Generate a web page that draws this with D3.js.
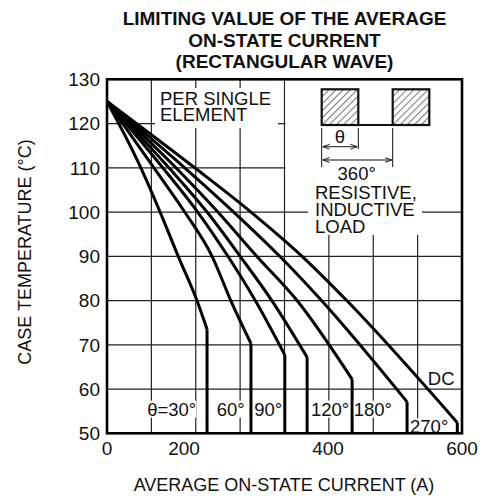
<!DOCTYPE html>
<html>
<head>
<meta charset="utf-8">
<script src="https://cdn.jsdelivr.net/npm/d3@7/dist/d3.min.js"></script>
<style>
	body { margin: 0; background: #fff; }
	text { font-family: "Liberation Sans", Arial, sans-serif; fill: #111; }
</style>
</head>
<body>
<script>
//////////////////////////////////////////////////
// data
//////////////////////////////////////////////////
var tempTicks = [50, 60, 70, 80, 90, 100, 110, 120, 130];
var currentTicks = [0, 200, 400, 600];

// case temperatures where the sloped part of each curve was read
var temps = [125, 110, 100, 90, 80];

// average on-state current (A) at those temperatures, per conduction angle
var i30 = [0, 88, 138, 185, 218];
var i60 = [0, 122, 201, 239, 265];
var i90 = [0, 145, 219, 261, 299];
var i120 = [0, 161, 232, 278, 322];
var i180 = [0, 179, 247, 301, 357];
var i270 = [0, 201, 269, 333, 391];
var iDC = [0, 215, 293, 364, 428];

// knee where each curve turns straight down to 50 degC
var kneeCurrent = [232, 293, 340, 371, 436, 518, 593];
var kneeTemp = [73.5, 70.3, 67.7, 67.2, 62.2, 57.1, 52.4];

var seriesNames = ['30', '60', '90', '120', '180', '270', 'DC'];
var seriesCurrents = [i30, i60, i90, i120, i180, i270, iDC];

// curve labels, anchored in data units
var labelText = ['\u03B8=30\u00B0', '60\u00B0', '90\u00B0', '120\u00B0', '180\u00B0', '270\u00B0', 'DC'];
var labelCurrent = [168, 265, 317, 403, 467, 551, 569];
var labelTemp = [55.5, 55.5, 55.5, 55.5, 55.5, 51.5, 62.5];

var titleLines = ['LIMITING VALUE OF THE AVERAGE', 'ON-STATE CURRENT', '(RECTANGULAR WAVE)'];

//////////////////////////////////////////////////
// canvas
//////////////////////////////////////////////////
var width = 482,
	height = 501,
	plotLeft = 107,
	plotRight = 462,
	plotTop = 79.3,
	plotBottom = 433.3;

var svg = d3.select('body')
	.append('svg')
	.attr('width', width)
	.attr('height', height);

// the printed axis is not evenly spaced, so use a piecewise scale
var x = d3.scaleLinear()
	.domain(currentTicks)
	.range([plotLeft, 184, 328, plotRight]);

var y = d3.scaleLinear()
	.domain([50, 130])
	.range([plotBottom, plotTop]);

// grid has 8 equal divisions across the width
var gridX = d3.scaleLinear().domain([0, 8]).range([plotLeft, plotRight]);

//////////////////////////////////////////////////
// grid
//////////////////////////////////////////////////
svg.append('g')
	.selectAll('line')
	.data(tempTicks.slice(1, -1))
	.enter().append('line')
	.attr('x1', plotLeft).attr('x2', plotRight)
	.attr('y1', function(d) { return y(d); })
	.attr('y2', function(d) { return y(d); })
	.style('stroke', '#222')
	.style('stroke-width', 1.2);

svg.append('g')
	.selectAll('line')
	.data(d3.range(1, 8))
	.enter().append('line')
	.attr('x1', function(d) { return gridX(d); })
	.attr('x2', function(d) { return gridX(d); })
	.attr('y1', plotTop).attr('y2', plotBottom)
	.style('stroke', '#222')
	.style('stroke-width', 1.2);

// white boxes behind the notes (they cut the grid in the original)
svg.append('rect').attr('x', 155).attr('y', 88).attr('width', 123).attr('height', 40).style('fill', '#fff');
svg.append('rect').attr('x', 285.5).attr('y', plotTop).attr('width', plotRight - 285.5).attr('height', 95).style('fill', '#fff');
svg.append('rect').attr('x', 308).attr('y', 172).attr('width', 114).attr('height', 63).style('fill', '#fff');

//////////////////////////////////////////////////
// axes labels
//////////////////////////////////////////////////
svg.append('g')
	.selectAll('text')
	.data(tempTicks)
	.enter().append('text')
	.attr('x', 100)
	.attr('y', function(d) { return y(d); })
	.attr('dy', '0.36em')
	.attr('text-anchor', 'end')
	.style('font-size', '19px')
	.text(function(d) { return d; });

svg.append('g')
	.selectAll('text')
	.data(currentTicks)
	.enter().append('text')
	.attr('x', function(d) { return x(d); })
	.attr('y', 455)
	.attr('text-anchor', 'middle')
	.style('font-size', '19px')
	.text(function(d) { return d; });

svg.append('text')
	.attr('transform', 'translate(31,252) rotate(-90)')
	.attr('text-anchor', 'middle')
	.style('font-size', '18px')
	.text('CASE TEMPERATURE (\u00B0C)');

svg.append('text')
	.attr('x', 284)
	.attr('y', 491)
	.attr('text-anchor', 'middle')
	.style('font-size', '18px')
	.text('AVERAGE ON-STATE CURRENT (A)');

svg.append('g')
	.selectAll('text')
	.data(titleLines)
	.enter().append('text')
	.attr('x', 284.5)
	.attr('y', function(d, i) { return 25 + i * 21.7; })
	.attr('text-anchor', 'middle')
	.style('font-size', '19px')
	.style('font-weight', 'bold')
	.text(function(d) { return d; });

//////////////////////////////////////////////////
// notes inside the plot
//////////////////////////////////////////////////
var noteStyle = function(sel) {
	sel.style('font-size', '18.5px');
};

svg.append('text').attr('x', 160).attr('y', 104.5).text('PER SINGLE').call(noteStyle);
svg.append('text').attr('x', 160).attr('y', 121).text('ELEMENT').call(noteStyle);

svg.append('text').attr('x', 356.7).attr('y', 180).attr('text-anchor', 'middle').text('360\u00B0').call(noteStyle);
svg.append('text').attr('x', 315).attr('y', 198.5).text('RESISTIVE,').call(noteStyle);
svg.append('text').attr('x', 315).attr('y', 215.5).text('INDUCTIVE').call(noteStyle);
svg.append('text').attr('x', 315).attr('y', 233).text('LOAD').call(noteStyle);

// waveform sketch
var defs = svg.append('defs');
defs.append('pattern')
	.attr('id', 'hatch')
	.attr('patternUnits', 'userSpaceOnUse')
	.attr('width', 5).attr('height', 5)
	.attr('patternTransform', 'rotate(45)')
	.append('line')
	.attr('x1', 0).attr('y1', 0).attr('x2', 0).attr('y2', 5)
	.style('stroke', '#333')
	.style('stroke-width', 1.3);

defs.append('marker')
	.attr('id', 'arrow')
	.attr('viewBox', '0 0 10 10')
	.attr('refX', 10).attr('refY', 5)
	.attr('markerWidth', 7).attr('markerHeight', 7)
	.attr('orient', 'auto-start-reverse')
	.append('path')
	.attr('d', 'M0,1.5 L10,5 L0,8.5')
	.style('fill', 'none')
	.style('stroke', '#111')
	.style('stroke-width', 1.3);

var wave = svg.append('g').attr('transform', 'translate(321.7,89.3)');
var pulseW = 36.6, pulseH = 35.7, period = 71;

[0, period].forEach(function(off) {
	wave.append('rect')
		.attr('x', off).attr('y', 0)
		.attr('width', pulseW).attr('height', pulseH)
		.style('fill', 'url(#hatch)')
		.style('stroke', '#111')
		.style('stroke-width', 2.2);
});
wave.append('line')
	.attr('x1', pulseW).attr('x2', period)
	.attr('y1', pulseH).attr('y2', pulseH)
	.style('stroke', '#111')
	.style('stroke-width', 2.2);

// dimension marks
[[0, 42], [pulseW, 24], [period, 42]].forEach(function(m) {
	wave.append('line')
		.attr('x1', m[0]).attr('x2', m[0])
		.attr('y1', pulseH + 3).attr('y2', pulseH + m[1])
		.style('stroke', '#111')
		.style('stroke-width', 1);
});
[[pulseW, 57.4], [period, 70.7]].forEach(function(a) {
	wave.append('line')
		.attr('x1', 1).attr('x2', a[0] - 1)
		.attr('y1', a[1]).attr('y2', a[1])
		.attr('marker-start', 'url(#arrow)')
		.attr('marker-end', 'url(#arrow)')
		.style('stroke', '#111')
		.style('stroke-width', 1);
});
wave.append('text')
	.attr('x', pulseW / 2).attr('y', 54)
	.attr('text-anchor', 'middle')
	.text('\u03B8')
	.call(noteStyle);

//////////////////////////////////////////////////
// curves
//////////////////////////////////////////////////
var line = d3.line()
	.x(function(d) { return x(d[0]); })
	.y(function(d) { return y(d[1]); })
	.curve(d3.curveMonotoneX);

var drop = d3.line()
	.x(function(d) { return x(d[0]); })
	.y(function(d) { return y(d[1]); });

seriesCurrents.forEach(function(cur, k) {
	var pts = cur.map(function(c, i) { return [c, temps[i]]; });
	pts.push([kneeCurrent[k], kneeTemp[k]]);

	svg.append('path')
		.datum(pts)
		.attr('class', 'curve-' + seriesNames[k])
		.attr('d', line)
		.style('fill', 'none')
		.style('stroke', '#000')
		.style('stroke-width', 3)
		.style('stroke-linejoin', 'round');

	svg.append('path')
		.datum([[kneeCurrent[k], kneeTemp[k]], [kneeCurrent[k], 50]])
		.attr('d', drop)
		.style('fill', 'none')
		.style('stroke', '#000')
		.style('stroke-width', 3);
});

// labels with white backing so grid lines break around them
var labels = svg.append('g');
labelText.forEach(function(t, k) {
	var txt = labels.append('text')
		.attr('x', x(labelCurrent[k]))
		.attr('y', y(labelTemp[k]))
		.attr('dy', '0.36em')
		.attr('text-anchor', 'middle')
		.text(t)
		.call(noteStyle);
	var bb = txt.node().getBBox();
	labels.insert('rect', 'text')
		.attr('x', bb.x).attr('y', bb.y + 2)
		.attr('width', bb.width).attr('height', bb.height - 4)
		.style('fill', '#fff');
});

//////////////////////////////////////////////////
// frame
//////////////////////////////////////////////////
svg.append('rect')
	.attr('x', plotLeft).attr('y', plotTop)
	.attr('width', plotRight - plotLeft).attr('height', plotBottom - plotTop)
	.style('fill', 'none')
	.style('stroke', '#000')
	.style('stroke-width', 2.6);
</script>
</body>
</html>
